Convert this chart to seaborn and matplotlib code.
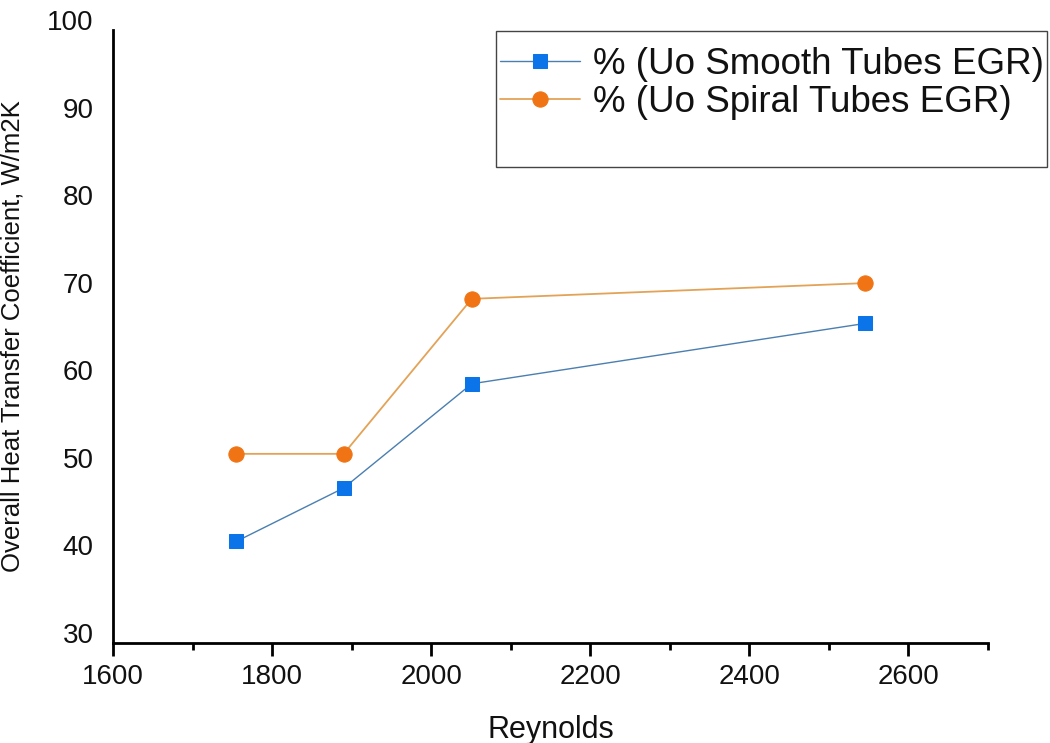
import matplotlib
matplotlib.use("Agg")
import matplotlib.pyplot as plt
import matplotlib.transforms as mtransforms
from matplotlib.patches import Rectangle
from matplotlib.ticker import MultipleLocator
import seaborn as sns
import pandas as pd

reynolds = [1755, 1890, 2051, 2546]
uo_smooth = [41.6, 47.7, 59.6, 66.5]
uo_spiral = [51.6, 51.6, 69.3, 71.1]
label_smooth = "% (Uo Smooth Tubes EGR)"
label_spiral = "% (Uo Spiral Tubes EGR)"
x_ticks = [1600, 1800, 2000, 2200, 2400, 2600]
y_ticks = [30, 40, 50, 60, 70, 80, 90, 100]

sns.set_theme(style="white")
plt.rcParams["font.family"] = ["Liberation Sans", "DejaVu Sans"]

fig = plt.figure(figsize=(10.5, 7.43), dpi=100)
ax = fig.add_axes([113/1050, 1 - 643/743, (988 - 113)/1050, (643 - 30)/743])

df_s = pd.DataFrame({"x": reynolds, "y": uo_smooth})
df_p = pd.DataFrame({"x": reynolds, "y": uo_spiral})

sns.lineplot(data=df_s, x="x", y="y", ax=ax, color="#4a7fb0", linewidth=1.0,
             marker="s", markersize=10, markerfacecolor="#0a74e8",
             markeredgecolor="#0a74e8", label=label_smooth, legend=False)
sns.lineplot(data=df_p, x="x", y="y", ax=ax, color="#e3a357", linewidth=1.3,
             marker="o", markersize=11, markerfacecolor="#f07414",
             markeredgecolor="#f07414", label=label_spiral, legend=False)

ax.set_xlim(1600, 2700)
ax.set_ylim(30, 100)
ax.set_xticks(x_ticks)
ax.xaxis.set_minor_locator(MultipleLocator(100))
ax.set_yticks(y_ticks)

for s in ["top", "right"]:
    ax.spines[s].set_visible(False)
for s in ["left", "bottom"]:
    ax.spines[s].set_color("black")
    ax.spines[s].set_linewidth(2.0)

ax.tick_params(axis="x", which="major", direction="out", length=9, width=2,
               color="black", labelsize=20, pad=6, bottom=True)
ax.tick_params(axis="x", which="minor", direction="out", length=5, width=2,
               color="black", bottom=True)
ax.tick_params(axis="y", which="both", length=0, labelsize=20, pad=14, left=False)
for lab in ax.get_xticklabels() + ax.get_yticklabels():
    lab.set_color("#111111")

offset = mtransforms.ScaledTranslation(0, 0.10, fig.dpi_scale_trans)
for lab in ax.get_yticklabels():
    lab.set_transform(lab.get_transform() + offset)

ax.set_xlabel("Reynolds", fontsize=22, color="#111111", labelpad=18)
ax.set_ylabel("Overall Heat Transfer Coefficient, W/m2K", fontsize=18.5,
              color="#111111")
ax.yaxis.set_label_coords(-88/875, 0.5)
ax.grid(False)

handles, labels = ax.get_legend_handles_labels()
leg = fig.legend(handles, labels, loc="upper left",
                 bbox_to_anchor=(500/1050, 1 - 47/743), frameon=False,
                 fontsize=26.5, handlelength=2.17, handletextpad=0.35,
                 labelspacing=0.08, borderpad=0, borderaxespad=0)
for t in leg.get_texts():
    t.set_color("#111111")

fig.patches.append(Rectangle((496/1050, 1 - 167/743), (1047 - 496)/1050,
                             (167 - 31)/743, transform=fig.transFigure,
                             fill=False, edgecolor="#444444", linewidth=1.0))

fig.savefig("out.png", dpi=100)
